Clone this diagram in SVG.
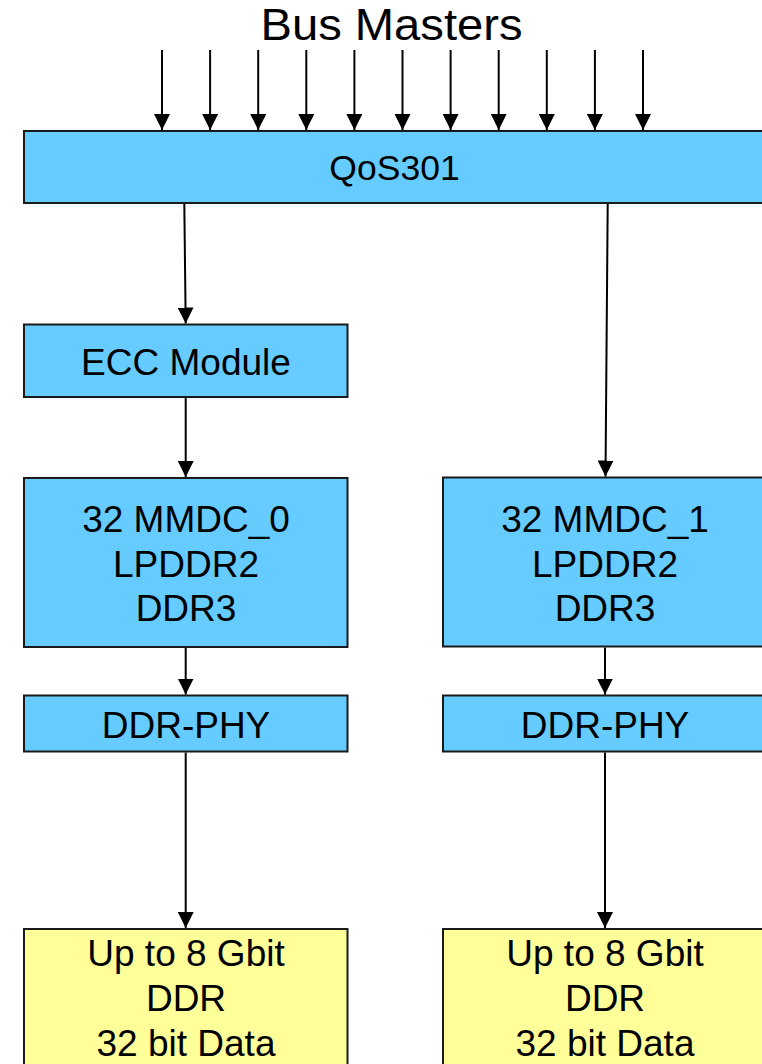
<svg xmlns="http://www.w3.org/2000/svg" width="762" height="1064" viewBox="0 0 762 1064">
<style>
.blue{fill:#66CCFF;stroke:#1a1a1a;stroke-width:2}
.yel{fill:#FFFF99;stroke:#1a1a1a;stroke-width:2}
text{font-family:"Liberation Sans",Arial,sans-serif;fill:#000;text-anchor:middle}
.t{font-size:37px}
.c line{stroke:#000;stroke-width:2;marker-end:url(#ah)}
</style>
<defs>
<marker id="ah" markerUnits="userSpaceOnUse" markerWidth="16" markerHeight="16" refX="15" refY="7.5" orient="auto" viewBox="0 0 15 15">
<path d="M0,0 L15,7.5 L0,15 z" fill="#000"/>
</marker>
</defs>
<rect width="762" height="1064" fill="#fff"/>
<text id="busmasters" x="391.5" y="40" font-size="44" textLength="262" lengthAdjust="spacingAndGlyphs">Bus Masters</text>
<g id="qos301">
<rect class="blue" x="24" y="131" width="741" height="72"/>
<text x="394.5" y="180" font-size="35.5">QoS301</text>
</g>
<g id="ecc">
<rect class="blue" x="24" y="324.5" width="323.5" height="72.5"/>
<text class="t" x="186" y="375">ECC Module</text>
</g>
<g id="mmdc0">
<rect class="blue" x="24" y="478" width="323.5" height="169"/>
<text class="t" x="186" y="531.5">32 MMDC_0</text>
<text class="t" x="186" y="576.5">LPDDR2</text>
<text class="t" x="186" y="620.5">DDR3</text>
</g>
<g id="mmdc1">
<rect class="blue" x="443" y="477.5" width="324" height="169"/>
<text class="t" x="605" y="531.5">32 MMDC_1</text>
<text class="t" x="605" y="576.5">LPDDR2</text>
<text class="t" x="605" y="620.5">DDR3</text>
</g>
<g id="ddrphy0">
<rect class="blue" x="24" y="695.5" width="323.5" height="56"/>
<text class="t" x="186" y="737.5">DDR-PHY</text>
</g>
<g id="ddrphy1">
<rect class="blue" x="443" y="695.5" width="324" height="56"/>
<text class="t" x="605" y="737.5">DDR-PHY</text>
</g>
<g id="ddr0">
<rect class="yel" x="24" y="929" width="323.5" height="150"/>
<text class="t" x="186" y="966">Up to 8 Gbit</text>
<text class="t" x="186" y="1011">DDR</text>
<text class="t" x="186" y="1056">32 bit Data</text>
</g>
<g id="ddr1">
<rect class="yel" x="443" y="929" width="324" height="150"/>
<text class="t" x="605" y="966">Up to 8 Gbit</text>
<text class="t" x="605" y="1011">DDR</text>
<text class="t" x="605" y="1056">32 bit Data</text>
</g>
<g id="connectors" class="c">
<line x1="162" y1="50" x2="162" y2="130"/>
<line x1="210.1" y1="50" x2="210.1" y2="130"/>
<line x1="258.2" y1="50" x2="258.2" y2="130"/>
<line x1="306.3" y1="50" x2="306.3" y2="130"/>
<line x1="354.4" y1="50" x2="354.4" y2="130"/>
<line x1="402.5" y1="50" x2="402.5" y2="130"/>
<line x1="450.6" y1="50" x2="450.6" y2="130"/>
<line x1="498.7" y1="50" x2="498.7" y2="130"/>
<line x1="546.8" y1="50" x2="546.8" y2="130"/>
<line x1="594.9" y1="50" x2="594.9" y2="130"/>
<line x1="643" y1="50" x2="643" y2="130"/>
<line x1="184.3" y1="204" x2="185.7" y2="323.5"/>
<line x1="185.7" y1="398" x2="185.7" y2="477"/>
<line x1="607.7" y1="204" x2="605.5" y2="476.5"/>
<line x1="185.7" y1="648" x2="185.7" y2="694.5"/>
<line x1="605" y1="647.5" x2="605" y2="694.5"/>
<line x1="185.7" y1="752.5" x2="185.7" y2="928"/>
<line x1="605" y1="752.5" x2="605" y2="928"/>
</g>
</svg>
